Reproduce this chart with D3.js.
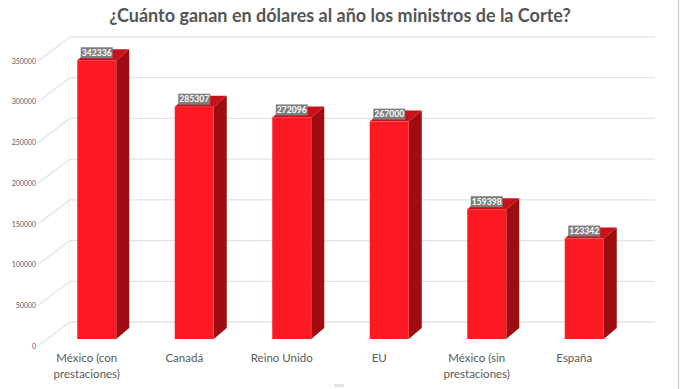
<!DOCTYPE html>
<html>
<head>
<meta charset="utf-8">
<script src="https://cdn.jsdelivr.net/npm/d3@7"></script>
<style>
  body { margin: 0; background: #fff; }
  svg { display: block; }
</style>
</head>
<body>
<div id="chart"></div>
<script>
const categories = ['México (con|prestaciones)', 'Canadá', 'Reino Unido', 'EU', 'México (sin|prestaciones)', 'España'];
const salaries = [342336, 285307, 272096, 267000, 159398, 123342];
const yTicks = [0, 50000, 100000, 150000, 200000, 250000, 300000, 350000];

const width = 680, height = 389;
// offsets of the 3D projection
const wall = {dx: 32, dy: -24};
const barFront = {dx: 10, dy: -7};
const barDepth = {dx: 13, dy: -11};

let svg = d3.select('#chart').append('svg')
	.attr('width', width)
	.attr('height', height)

svg.append('text')
	.attr('x', width / 2)
	.attr('y', 22)
	.attr('text-anchor', 'middle')
	.attr('fill', '#555555')
	.attr('font-family', 'Lato, sans-serif')
	.attr('font-size', '18px')
	.attr('font-weight', '700')
	.text('¿Cuánto ganan en dólares al año los ministros de la Corte?')

let x = d3.scaleBand()
	.domain(categories)
	.range([38, 623])
	.paddingInner(0.6)
	.paddingOuter(0.3);

let y = d3.scaleLinear()
	.domain([0, 350000])
	.range([346, 61]);

// gridlines: side wall diagonal + back wall horizontal
let grid = svg.append('g').classed('grid', true)
grid.selectAll('path')
	.data(yTicks)
	.enter()
	.append('path')
	.attr('d', d => {
		let x0 = x.range()[0], y0 = y(d);
		return `M${x0},${y0}L${x0 + wall.dx},${y0 + wall.dy}L${x.range()[1] + wall.dx},${y0 + wall.dy}`;
	})
	.attr('fill', 'none')
	.attr('stroke', '#e3e3e3')
	.attr('stroke-width', 1.3)

let axis_y = d3.axisLeft()
	.scale(y)
	.tickValues(yTicks)
	.tickSize(0)
	.tickPadding(0)
	.tickFormat(d3.format('d'));

svg.append('g')
	.classed('y-axis', true)
	.attr('transform', `translate(36, 0)`)
	.call(axis_y)
	.call(g => g.select('.domain').remove())
	.selectAll('text')
	.attr('fill', '#595959')
	.style('font-family', 'Lato, sans-serif')
	.style('font-size', '7px')

let bars = svg.append('g').classed('bars', true)
	.selectAll('g')
	.data(categories.map((c, i) => ({cat: c, value: salaries[i]})))
	.enter()
	.append('g')

const fx0 = d => x(d.cat) + barFront.dx;
const fx1 = d => x(d.cat) + x.bandwidth() + barFront.dx;
const fyb = d => y(0) + barFront.dy;
const fyt = d => y(d.value) + barFront.dy;

// side face
bars.append('path')
	.attr('d', d => `M${fx1(d)},${fyt(d)}L${fx1(d) + barDepth.dx},${fyt(d) + barDepth.dy}L${fx1(d) + barDepth.dx},${fyb(d) + barDepth.dy}L${fx1(d)},${fyb(d)}Z`)
	.attr('fill', '#9f0c12')
// top face
bars.append('path')
	.attr('d', d => `M${fx0(d)},${fyt(d)}L${fx1(d)},${fyt(d)}L${fx1(d) + barDepth.dx},${fyt(d) + barDepth.dy}L${fx0(d) + barDepth.dx},${fyt(d) + barDepth.dy}Z`)
	.attr('fill', '#c9111a')
// front face
bars.append('rect')
	.attr('x', fx0)
	.attr('y', fyt)
	.attr('width', x.bandwidth())
	.attr('height', d => fyb(d) - fyt(d))
	.attr('fill', '#fe1a22')

// value labels
bars.append('rect')
	.attr('x', d => (fx0(d) + fx1(d)) / 2 - 16)
	.attr('y', d => fyt(d) - 13)
	.attr('width', 32)
	.attr('height', 11)
	.attr('fill', '#7f7f7f')
bars.append('text')
	.attr('x', d => (fx0(d) + fx1(d)) / 2)
	.attr('y', d => fyt(d) - 4.2)
	.attr('text-anchor', 'middle')
	.attr('fill', 'white')
	.attr('font-family', 'Lato, sans-serif')
	.attr('font-size', '8.6px')
	.attr('font-weight', '700')
	.text(d => d.value)

// category labels
let axis_x = d3.axisBottom()
	.scale(x)
	.tickSize(0)
	.tickPadding(0)
	.tickFormat('');

let xAxis = svg.append('g')
	.classed('x-axis', true)
	.attr('transform', `translate(0, 350)`)
	.call(axis_x)
	.call(g => g.select('.domain').remove())

xAxis.selectAll('.tick')
	.append('text')
	.attr('text-anchor', 'middle')
	.attr('fill', '#595959')
	.attr('font-family', 'Lato, sans-serif')
	.attr('font-size', '11.5px')
	.each(function(d) {
		let lines = d.split('|');
		d3.select(this).selectAll('tspan')
			.data(lines)
			.enter()
			.append('tspan')
			.attr('x', 0)
			.attr('y', (l, i) => 12 + i * 16)
			.text(l => l);
	})

// chart border / handles
svg.append('line')
	.attr('x1', 678.5).attr('x2', 678.5)
	.attr('y1', 0).attr('y2', height)
	.attr('stroke', '#d4d4d4')
	.attr('stroke-width', 1.5)
svg.append('rect')
	.attr('x', 334).attr('y', 384)
	.attr('width', 10).attr('height', 3)
	.attr('fill', '#e2e2e2')
</script>
</body>
</html>
